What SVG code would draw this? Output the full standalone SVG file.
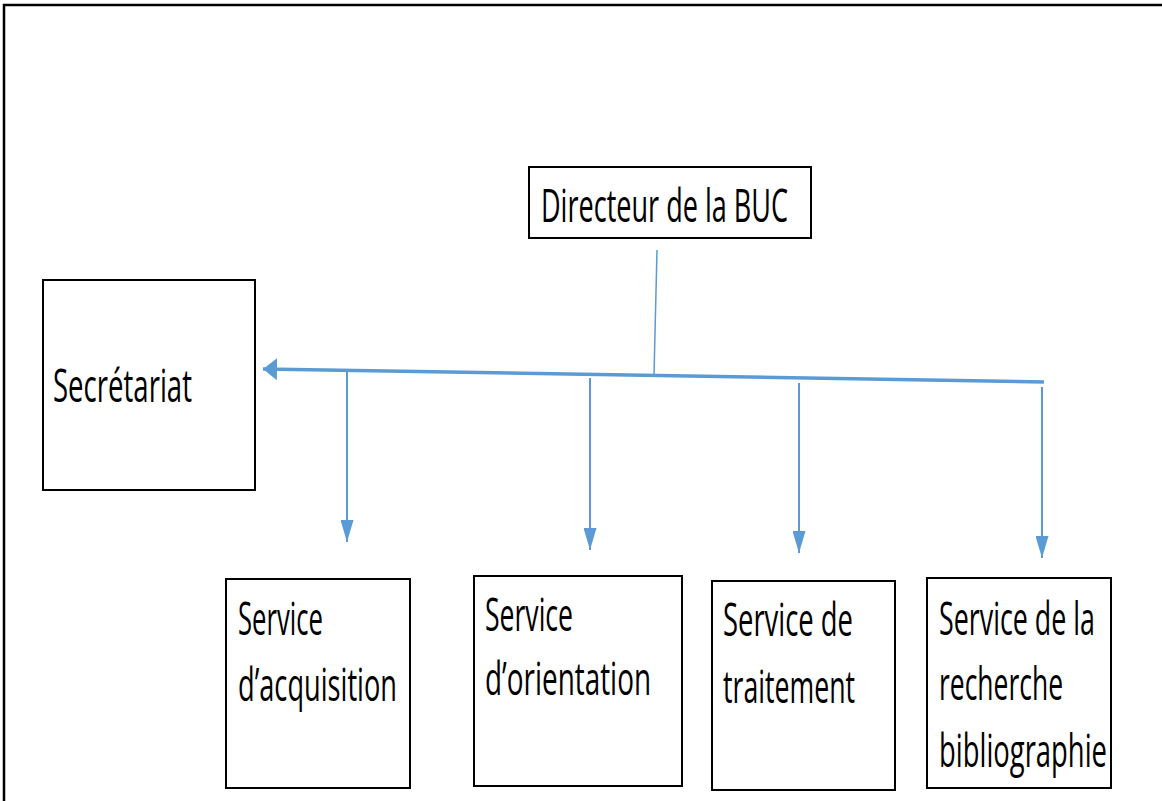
<svg xmlns="http://www.w3.org/2000/svg" width="1162" height="801" viewBox="0 0 1162 801">
<style>
.box{fill:#fff;stroke:#000;stroke-width:2}
.t{font-family:"Open Sans","Liberation Sans",sans-serif;font-size:46px;fill:#000}
.c{stroke:#5B9BD5;fill:none}
</style>
<defs>
<marker id="ah" markerWidth="22" markerHeight="13" refX="22" refY="6.5" orient="auto" markerUnits="userSpaceOnUse" viewBox="0 0 22 13">
<path d="M0,0 L22,6.5 L0,13 Z" fill="#5B9BD5"/>
</marker>
<marker id="ahL" markerWidth="14" markerHeight="22" refX="14" refY="11" orient="auto" markerUnits="userSpaceOnUse" viewBox="0 0 14 22">
<path d="M0,0 L14,11 L0,22 Z" fill="#5B9BD5"/>
</marker>
</defs>
<rect width="1162" height="801" fill="#fff"/>
<path d="M4,801 V5 H1162" fill="none" stroke="#000" stroke-width="2.5"/>
<g id="connectors">
<line class="c" x1="657" y1="250" x2="654" y2="375" stroke-width="1.5"/>
<line class="c" x1="1044" y1="382" x2="263" y2="369" stroke-width="3.5" marker-end="url(#ahL)"/>
<line class="c" x1="347" y1="372" x2="347" y2="542" stroke-width="2" marker-end="url(#ah)"/>
<line class="c" x1="590" y1="378" x2="590" y2="550" stroke-width="2" marker-end="url(#ah)"/>
<line class="c" x1="799" y1="383" x2="799" y2="553" stroke-width="2" marker-end="url(#ah)"/>
<line class="c" x1="1042" y1="387" x2="1042" y2="558" stroke-width="2" marker-end="url(#ah)"/>
</g>
<g id="directeur">
<rect class="box" x="529" y="167" width="282" height="71"/>
<text class="t" x="541" y="222" textLength="247" lengthAdjust="spacingAndGlyphs">Directeur de la BUC</text>
</g>
<g id="secretariat">
<rect class="box" x="43" y="280" width="212" height="210"/>
<text class="t" x="53" y="402" textLength="139" lengthAdjust="spacingAndGlyphs">Secrétariat</text>
</g>
<g id="acquisition">
<rect class="box" x="226" y="579" width="184" height="209"/>
<text class="t" x="238" y="635" textLength="85" lengthAdjust="spacingAndGlyphs">Service</text>
<text class="t" x="238" y="701" textLength="159" lengthAdjust="spacingAndGlyphs">d’acquisition</text>
</g>
<g id="orientation">
<rect class="box" x="474" y="576" width="208" height="210"/>
<text class="t" x="485" y="631" textLength="88" lengthAdjust="spacingAndGlyphs">Service</text>
<text class="t" x="485" y="695" textLength="166" lengthAdjust="spacingAndGlyphs">d’orientation</text>
</g>
<g id="traitement">
<rect class="box" x="712" y="581" width="183" height="209"/>
<text class="t" x="723" y="636" textLength="130" lengthAdjust="spacingAndGlyphs">Service de</text>
<text class="t" x="723" y="703" textLength="132" lengthAdjust="spacingAndGlyphs">traitement</text>
</g>
<g id="recherche">
<rect class="box" x="927" y="578" width="184" height="210"/>
<text class="t" x="939" y="635" textLength="156" lengthAdjust="spacingAndGlyphs">Service de la</text>
<text class="t" x="939" y="700" textLength="124" lengthAdjust="spacingAndGlyphs">recherche</text>
<text class="t" x="939" y="767" textLength="168" lengthAdjust="spacingAndGlyphs">bibliographie</text>
</g>
</svg>
